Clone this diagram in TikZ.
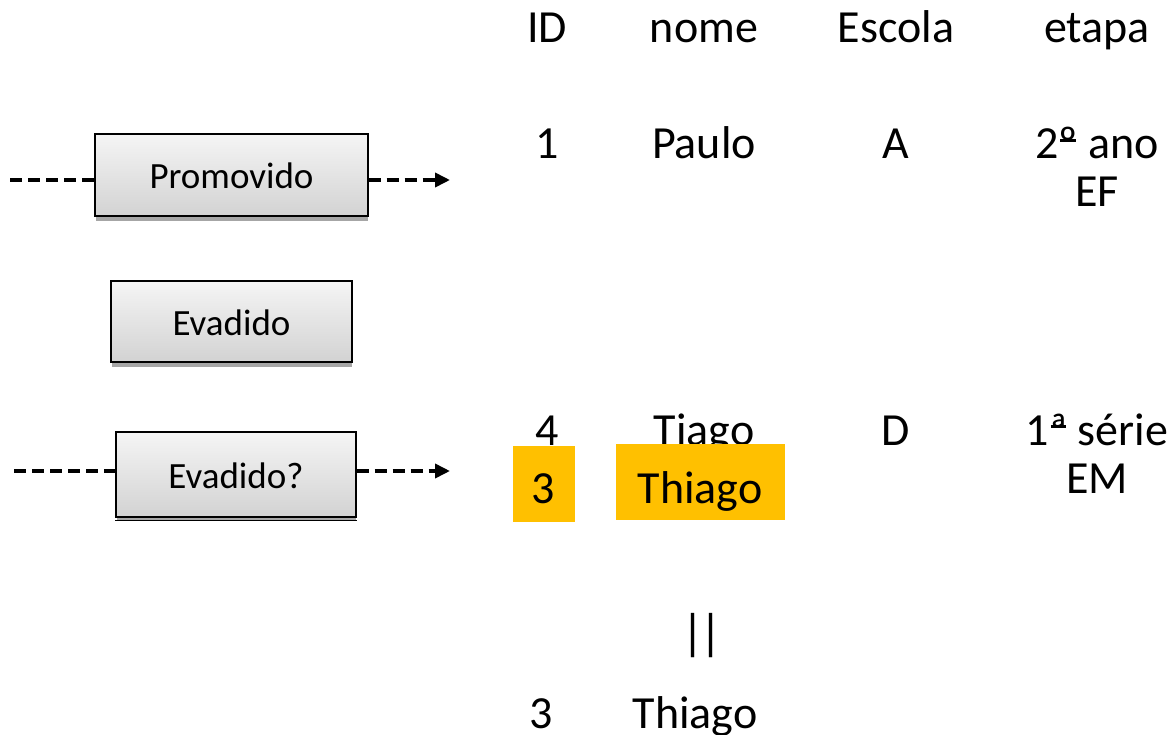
\documentclass[tikz,border=0pt]{standalone}
\usepackage{fontspec}
\setmainfont{Carlito}
\usetikzlibrary{arrows.meta}
\definecolor{hl}{HTML}{FFC000}
\newcommand\ordu[1]{\setbox0\hbox{#1}\rlap{#1}\kern0.1\wd0\raisebox{0.37em}{\rule{0.8\wd0}{0.055em}}\kern0.1\wd0\relax}
\tikzset{
  stbox/.style={draw=black, line width=1.3pt, top color=gray!8, bottom color=gray!35,
    text height=28pt, text depth=0pt, inner sep=0pt, font=\fontsize{37}{42}\selectfont},
  shad/.style={fill=gray!70, draw=none},
  dline/.style={line width=3.6pt, dash pattern=on 12pt off 6pt},
  darrow/.style={dline, -{Triangle[length=15pt,width=14pt]}},
  tcell/.style={anchor=base, inner sep=0pt, font=\fontsize{46}{52}\selectfont},
  hlbox/.style={fill=hl, draw=none}
}
\begin{document}
\begin{tikzpicture}[x=1pt,y=-1pt]
\useasboundingbox (0,0) rectangle (1174,735);
% shadows
\fill[shad] (96,138) rectangle (368,221);
\fill[shad] (112,285) rectangle (352,367);
\fill[shad] (117,436) rectangle (356,521);
% boxes
\node[stbox, minimum width=273pt, minimum height=82pt] (prom) at (231.5,175) {Promovido};
\node[stbox, minimum width=241pt, minimum height=81pt] (evad) at (231.5,321.5) {Evadido};
\node[stbox, minimum width=240pt, minimum height=85pt] (evq) at (236,474.5) {Evadido?};
\draw[line width=1.3pt] ([yshift=-3pt]evq.south west) -- ([yshift=-3pt]evq.south east);
% connectors
\coordinate (pl) at (10,180);
\coordinate (pr) at (450,180);
\coordinate (el) at (14,471);
\coordinate (er) at (450,471);
\draw[dline] (pl) -- (pl -| prom.west);
\draw[darrow] (pr -| prom.east) -- (pr);
\draw[dline] (el) -- (el -| evq.west);
\draw[darrow] (er -| evq.east) -- (er);
% header
\node[tcell] (hid) at (547,43) {ID};
\node[tcell] (hnome) at (704,43) {nome};
\node[tcell] (hesc) at (896,43) {Escola};
\node[tcell] (het) at (1097,43) {etapa};
% row 1
\node[tcell] (r1id) at (547,159) {1};
\node[tcell] (r1n) at (704,159) {Paulo};
\node[tcell] (r1e) at (896,159) {A};
\node[tcell] (r1t) at (1097,159) {2\ordu{º} ano};
\node[tcell] (r1t2) at (1097,207) {EF};
% row 2
\node[tcell] (r2id) at (547,445) {4};
\node[tcell] (r2n) at (704,445) {Tiago};
\node[tcell] (r2e) at (896,445) {D};
\node[tcell] (r2t) at (1097,445) {1\ordu{ª} série};
\node[tcell] (r2t2) at (1097,493) {EM};
% highlights
\fill[hlbox] (513,446) rectangle (575,522);
\fill[hlbox] (616,444) rectangle (785,520);
\node[tcell] (h3) at (543,503) {3};
\node[tcell] (hth) at (700,503) {Thiago};
% equality
\node[inner sep=0pt, font=\fontsize{50}{52}\selectfont] (eq) at (702,636) {|\kern-5pt|};
\node[tcell] (b3) at (541,728) {3};
\node[tcell] (bth) at (695,728) {Thiago};
\end{tikzpicture}
\end{document}
